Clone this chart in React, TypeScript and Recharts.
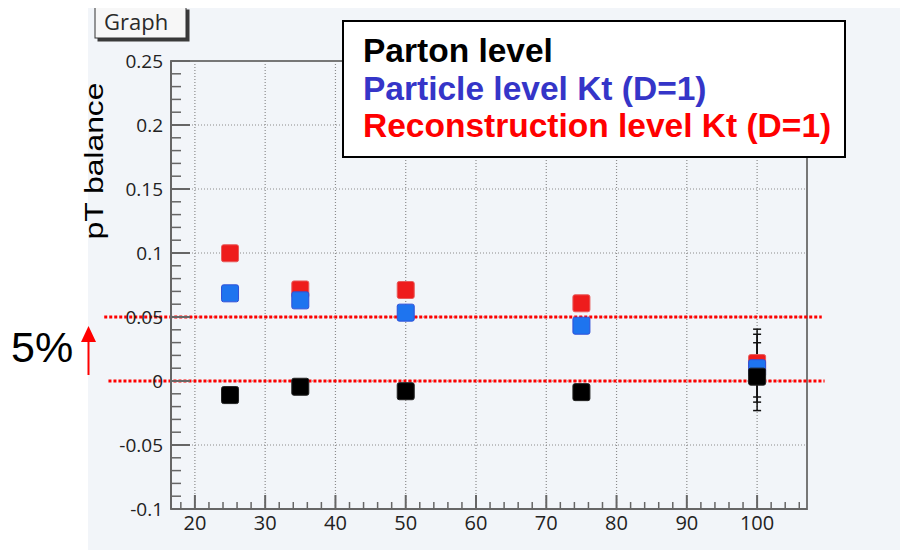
import { ScatterChart, Scatter, XAxis, YAxis, CartesianGrid, ReferenceLine, ReferenceArea, ErrorBar } from 'recharts';

// jet pT bins and the pT balance for each reconstruction level
const ptBins = [25, 35, 50, 75, 100];
const partonBalance = [-0.011, -0.0045, -0.008, -0.0087, 0.0034];
const particleBalance = [0.0685, 0.063, 0.0534, 0.0432, 0.01];
const recoBalance = [0.0998, 0.0715, 0.0711, 0.0607, 0.014];
const balanceErr = [0, 0, 0, 0, 0.0265];

const legendLabels = ['Parton level', 'Particle level Kt (D=1)', 'Reconstruction level Kt (D=1)'];
const legendColors = ['#000000', '#3535c8', '#ff0000'];

const xMajorTicks = [20, 30, 40, 50, 60, 70, 80, 90, 100];
const yMajorTicks = [-0.1, -0.05, 0, 0.05, 0.1, 0.15, 0.2, 0.25];
const xDomain = [16.6, 107.1];
const yDomain = [-0.1, 0.25];

// minor ticks: every 2 on x, every 0.01 on y
const xMinorTicks: number[] = [];
for (let v = 18; v <= 106; v += 2) xMinorTicks.push(v);
const yMinorTicks: number[] = [];
for (let i = -10; i <= 25; i++) yMinorTicks.push(i / 100);

const makeSeries = (vals: number[]) =>
  ptBins.map((x, i) => ({ x, y: vals[i], err: balanceErr[i] }));

const partonData = makeSeries(partonBalance);
const particleData = makeSeries(particleBalance);
const recoData = makeSeries(recoBalance);

const tickFont = '"Open Sans", "DejaVu Sans", sans-serif';
const arial = '"Liberation Sans", Arial, sans-serif';

const isMajor = (v: number, list: number[]) => list.some((m) => Math.abs(m - v) < 1e-6);

const YTick = (props: any) => {
  const { x, y, payload } = props;
  const v = payload.value;
  const major = isMajor(v, yMajorTicks);
  return (
    <g>
      <line x1={x} x2={x + (major ? 19 : 10)} y1={y} y2={y} stroke="#666" strokeWidth={major ? 2 : 1.5} />
      {major && (
        <text x={x - 8} y={y} textAnchor="end" dominantBaseline="central" fontSize={19} fill="#222" fontFamily={tickFont}>
          {String(+v.toFixed(2))}
        </text>
      )}
    </g>
  );
};

const XTick = (props: any) => {
  const { x, y, payload } = props;
  const v = payload.value;
  const major = isMajor(v, xMajorTicks);
  return (
    <g>
      <line x1={x} x2={x} y1={y} y2={y - (major ? 14 : 7)} stroke="#666" strokeWidth={major ? 2 : 1.5} />
      {major && (
        <text x={x} y={y + 13} textAnchor="middle" dominantBaseline="central" fontSize={20} fill="#222" fontFamily={tickFont}>
          {v}
        </text>
      )}
    </g>
  );
};

const square = (fill: string, stroke: string) => (p: any) => (
  <rect x={p.cx - 8.5} y={p.cy - 8.5} width={17} height={17} rx={2} fill={fill} stroke={stroke} strokeWidth={1} />
);

export default function App() {
  return (
    <div style={{ position: 'relative', width: 908, height: 558, margin: -8, background: '#fff', overflow: 'hidden' }}>
      <div style={{ position: 'absolute', left: 88, top: 5, width: 820, height: 553, background: '#f2f5f9' }} />
      <div style={{ position: 'absolute', left: 0, top: 0 }}>
        <ScatterChart width={908} height={558} margin={{ top: 61, right: 101, bottom: 9, left: 111 }}>
          <CartesianGrid
            horizontalValues={yMajorTicks}
            verticalValues={xMajorTicks}
            stroke="#8c8c8c"
            strokeDasharray="1 2"
            strokeWidth={1.2}
          />
          <ReferenceArea x1={xDomain[0]} x2={xDomain[1]} y1={yDomain[0]} y2={yDomain[1]} fill="none" stroke="#777" strokeWidth={2} />
          <XAxis
            type="number"
            dataKey="x"
            domain={xDomain}
            allowDataOverflow
            ticks={xMinorTicks}
            interval={0}
            tickSize={0}
            tickMargin={0}
            tickLine={false}
            tick={<XTick />}
            height={40}
            axisLine={{ stroke: '#666', strokeWidth: 2 }}
          />
          <YAxis
            type="number"
            dataKey="y"
            domain={yDomain}
            allowDataOverflow
            ticks={yMinorTicks}
            interval={0}
            tickSize={0}
            tickMargin={0}
            tickLine={false}
            tick={<YTick />}
            width={60}
            axisLine={{ stroke: '#666', strokeWidth: 2 }}
          />
          <Scatter data={recoData} isAnimationActive={false} shape={square('#ee1c1c', '#e85a5a')}>
            <ErrorBar dataKey="err" direction="y" width={4} stroke="#111" strokeWidth={1.5} />
          </Scatter>
          <Scatter data={particleData} isAnimationActive={false} shape={square('#1e74ef', '#3050d8')}>
            <ErrorBar dataKey="err" direction="y" width={4} stroke="#111" strokeWidth={1.5} />
          </Scatter>
          <Scatter data={partonData} isAnimationActive={false} shape={square('#000', '#222')}>
            <ErrorBar dataKey="err" direction="y" width={4} stroke="#111" strokeWidth={1.5} />
          </Scatter>
          <ReferenceLine
            segment={[{ x: 7.1, y: 0.05 }, { x: 109.2, y: 0.05 }]}
            ifOverflow="visible"
            stroke="#ff0000"
            strokeWidth={3}
            strokeDasharray="3 2"
          />
          <ReferenceLine
            segment={[{ x: 7.7, y: 0 }, { x: 109.6, y: 0 }]}
            ifOverflow="visible"
            stroke="#ff0000"
            strokeWidth={3}
            strokeDasharray="3 2"
          />
        </ScatterChart>
      </div>
      <svg width={908} height={558} style={{ position: 'absolute', left: 0, top: 0, pointerEvents: 'none' }}>
        {/* title box */}
        <rect x={97.5} y={9.5} width={92} height={32} fill="#3a3a3a" />
        <rect x={95} y={7} width={91} height={31} fill="#f7f7f7" stroke="#333" strokeWidth={1} />
        <text x={104} y={29.5} fontSize={22} fill="#2a2a2a" fontFamily={tickFont}>Graph</text>
        {/* y axis title */}
        <text
          transform="translate(103,161) rotate(-90)"
          textAnchor="middle"
          fontSize={26}
          textLength={157}
          lengthAdjust="spacingAndGlyphs"
          fontFamily={arial}
          fill="#000"
        >
          pT balance
        </text>
        {/* 5% annotation */}
        <text x={11} y={362} fontSize={43} fontFamily={arial} fill="#000">5%</text>
        <line x1={88.5} x2={88.5} y1={375} y2={340} stroke="#ff0000" strokeWidth={2} />
        <polygon points="81,342 96,342 88.5,326" fill="#ff0000" />
        {/* legend */}
        <rect x={343} y={21} width={502} height={136} fill="#fff" stroke="#000" strokeWidth={2} />
        {legendLabels.map((label, i) => (
          <text
            key={label}
            x={363}
            y={62 + i * 37.5}
            fontSize={33.5}
            fontWeight="bold"
            fontFamily={arial}
            fill={legendColors[i]}
          >
            {label}
          </text>
        ))}
      </svg>
    </div>
  );
}
